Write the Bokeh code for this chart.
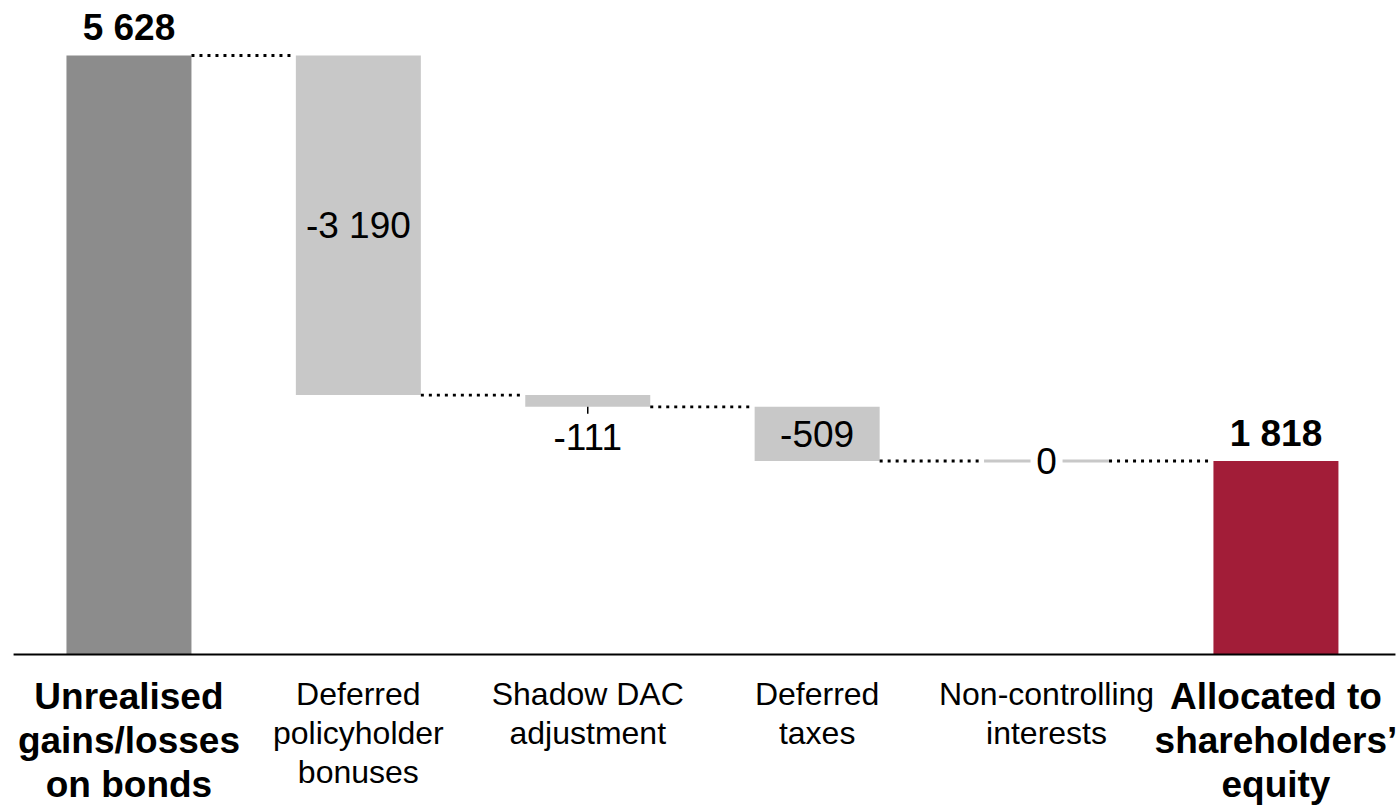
from bokeh.plotting import figure
from bokeh.models import Range1d
from bokeh.core.properties import value
from bokeh.embed import file_html
from bokeh.resources import INLINE

# Waterfall: unrealised gains/losses on bonds down to shareholders' equity
categories = [
    "Unrealised\ngains/losses\non bonds",
    "Deferred\npolicyholder\nbonuses",
    "Shadow DAC\nadjustment",
    "Deferred\ntaxes",
    "Non-controlling\ninterests",
    "Allocated to\nshareholders\u2019\nequity",
]
values = [5628, -3190, -111, -509, 0, 1818]
is_total = [True, False, False, False, False, True]
value_labels = ["5 628", "-3 190", "-111", "-509", "0", "1 818"]

FONT = "Liberation Sans"
C_START = "#8c8c8c"
C_DELTA = "#c8c8c8"
C_END = "#a21d38"

W, H = 1400, 807
XR = (-0.560, 5.543)
YR = (-1437.6, 6145.0)
px_x = W / (XR[1] - XR[0])        # pixels per category step
px_y = H / (YR[1] - YR[0])        # pixels per unit of value

p = figure(width=W, height=H, x_range=Range1d(*XR), y_range=Range1d(*YR),
           output_backend="svg", toolbar_location=None, min_border=0)
p.axis.visible = False
p.grid.visible = False
p.outline_line_color = None
p.background_fill_color = "white"
p.border_fill_color = "white"

bar_w = 125 / px_x

# running levels of the waterfall
xs, bottoms, tops, colors = [], [], [], []
level = 0
for i, (v, tot) in enumerate(zip(values, is_total)):
    if tot:
        b, t = 0, v
        level = v
        col = C_START if i == 0 else C_END
    else:
        t = level
        b = level + v
        level = b
        col = C_DELTA
    xs.append(i)
    bottoms.append(b)
    tops.append(t)
    colors.append(col)

nonzero = [i for i in range(len(values)) if values[i] != 0 or is_total[i]]
p.vbar(x=[xs[i] for i in nonzero], width=bar_w,
       bottom=[bottoms[i] for i in nonzero], top=[tops[i] for i in nonzero],
       fill_color=[colors[i] for i in nonzero], line_color=None)

# zero-valued step drawn as a thin line with a gap for its label
gap = 16 / px_x
for i in range(len(values)):
    if values[i] == 0 and not is_total[i]:
        y = tops[i]
        p.segment(x0=[i - bar_w / 2, i + gap], x1=[i - gap, i + bar_w / 2],
                  y0=[y, y], y1=[y, y], line_color=C_DELTA, line_width=3)
        p.text(x=[i], y=[y], text=[value_labels[i]], text_font=value(FONT),
               text_font_size="37px", text_align="center",
               text_baseline="middle", text_color="black")

# dotted connectors between consecutive bars
end_level = [bottoms[i] if not is_total[i] else tops[i] for i in range(len(values))]
cx0, cx1, cy = [], [], []
for i in range(len(values) - 1):
    cx0.append(i + bar_w / 2)
    cx1.append(i + 1 - bar_w / 2 - 5 / px_x)
    cy.append(end_level[i])
p.segment(x0=cx0, x1=cx1, y0=cy, y1=cy, line_color="black",
          line_width=2.8, line_dash="3 5")

# baseline
p.segment(x0=[-0.503], x1=[5.521], y0=[0], y1=[0], line_color="black", line_width=2)

# value labels
for i in range(len(values)):
    lab = value_labels[i]
    if is_total[i]:
        p.text(x=[i], y=[tops[i]], text=[lab], text_font=value(FONT),
               text_font_size="37px", text_font_style="bold", text_align="center",
               text_baseline="alphabetic", y_offset=-28, text_color="black")
    elif values[i] == 0:
        continue
    elif (tops[i] - bottoms[i]) * px_y < 30:
        # small step: label under the bar with a short leader tick
        p.segment(x0=[i], x1=[i], y0=[bottoms[i]], y1=[bottoms[i] - 7 / px_y],
                  line_color="black", line_width=1.5)
        p.text(x=[i], y=[bottoms[i]], text=[lab], text_font=value(FONT),
               text_font_size="37px", text_align="center",
               text_baseline="alphabetic", y_offset=30, text_color="black")
    else:
        p.text(x=[i], y=[(tops[i] + bottoms[i]) / 2], text=[lab], text_font=value(FONT),
               text_font_size="37px", text_align="center",
               text_baseline="middle", text_color="black")

# category labels under the baseline
for i, cat in enumerate(categories):
    if is_total[i]:
        p.text(x=[i], y=[0], text=[cat], text_font=value(FONT), text_font_size="37px",
               text_font_style="bold", text_align="center", text_baseline="top",
               y_offset=22, text_line_height=1.07, text_color="black")
    else:
        p.text(x=[i], y=[0], text=[cat], text_font=value(FONT), text_font_size="32px",
               text_align="center", text_baseline="top",
               y_offset=22, text_line_height=1.07, text_color="black")

open("out.html", "w").write(file_html(p, INLINE))
